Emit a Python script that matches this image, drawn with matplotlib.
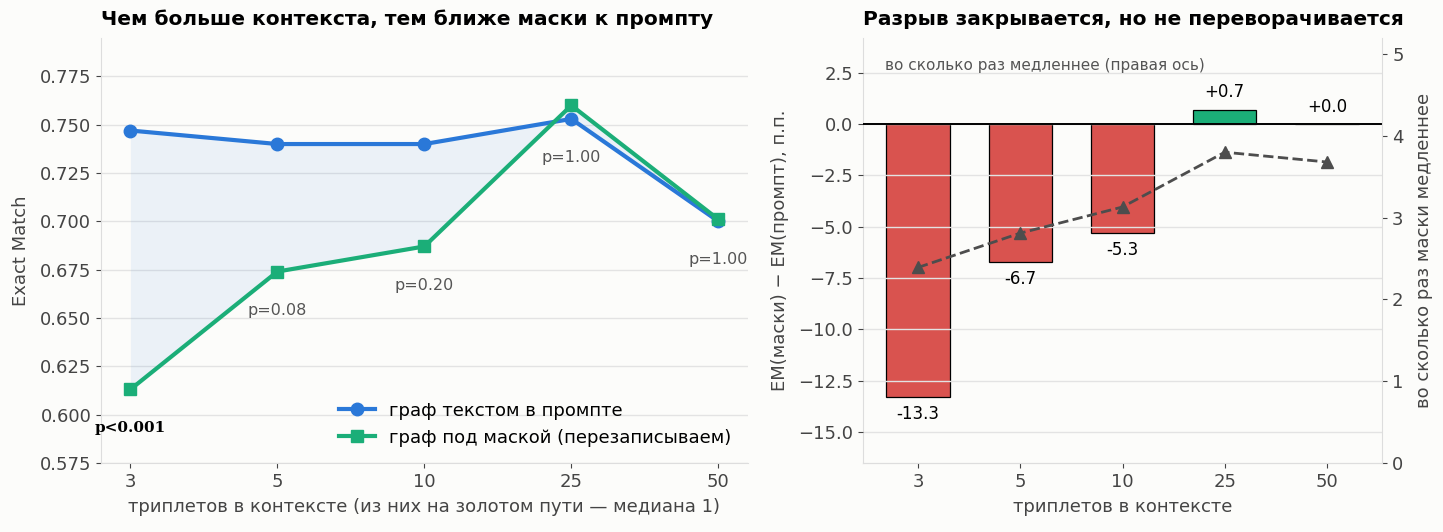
import numpy as np
import matplotlib
matplotlib.use("Agg")
import matplotlib.pyplot as plt

# данные
contexts = ["3", "5", "10", "25", "50"]
em_prompt = [0.747, 0.740, 0.740, 0.753, 0.700]
em_mask = [0.613, 0.674, 0.687, 0.760, 0.701]
p_labels = ["p<0.001", "p=0.08", "p=0.20", "p=1.00", "p=1.00"]
p_signif = [True, False, False, False, False]
gap_pp = [-13.3, -6.7, -5.3, 0.7, 0.0]
slowdown = [2.39, 2.81, 3.13, 3.80, 3.68]

BLUE = "#2a78d8"
GREEN = "#1bae78"
RED = "#d9534f"
DARK = "#4d4d4d"
BG = "#fcfcfa"
GRID = "#e3e3e3"
TXT = "#444444"

plt.rcParams.update({
    "font.family": "DejaVu Sans",
    "figure.facecolor": BG,
    "axes.facecolor": BG,
    "axes.edgecolor": "#dddddd",
    "axes.labelcolor": TXT,
    "xtick.color": TXT,
    "ytick.color": TXT,
    "xtick.labelsize": 13,
    "ytick.labelsize": 13,
    "axes.labelsize": 13,
    "axes.labelpad": 5,
})

fig, (ax1, ax2) = plt.subplots(1, 2, figsize=(14.43, 5.32), dpi=100,
                               gridspec_kw={"width_ratios": [647, 520]})
fig.subplots_adjust(left=0.07, right=0.958, bottom=0.13, top=0.929, wspace=0.197)

x = np.arange(len(contexts))

# левый график
ax1.fill_between(x, em_prompt, em_mask, color=BLUE, alpha=0.08, linewidth=0)
ax1.plot(x, em_prompt, color=BLUE, lw=3, marker="o", ms=9, label="граф текстом в промпте")
ax1.plot(x, em_mask, color=GREEN, lw=3, marker="s", ms=9, label="граф под маской (перезаписываем)")
for i in range(len(x)):
    y = min(em_prompt[i], em_mask[i]) - 0.02
    if p_signif[i]:
        ax1.text(x[i], y, p_labels[i], ha="center", va="center", fontsize=11,
                 fontweight="bold", family="DejaVu Serif", color="black")
    else:
        ax1.text(x[i], y, p_labels[i], ha="center", va="center", fontsize=11.5, color="#555555")
ax1.set_xticks(x)
ax1.set_xticklabels(contexts)
ax1.set_xlim(-0.2, 4.2)
ax1.set_ylim(0.575, 0.795)
ax1.set_yticks(np.arange(0.575, 0.776, 0.025))
ax1.yaxis.set_major_formatter(matplotlib.ticker.FormatStrFormatter("%.3f"))
ax1.set_ylabel("Exact Match", labelpad=7)
ax1.set_xlabel("триплетов в контексте (из них на золотом пути — медиана 1)")
ax1.set_title("Чем больше контекста, тем ближе маски к промпту", loc="left",
              fontweight="bold", fontsize=14.5, pad=9)
ax1.grid(axis="y", color=GRID, lw=1)
ax1.set_axisbelow(True)
ax1.legend(loc="lower right", frameon=False, fontsize=13)
for s in ["top", "right"]:
    ax1.spines[s].set_visible(False)

# правый график
colors = [RED if v < 0 else GREEN for v in gap_pp]
bars = ax2.bar(x, gap_pp, width=0.62, color=colors, edgecolor="black", linewidth=0.9, zorder=2)
ax2.bar_label(bars, labels=[f"{v:+.1f}" if v >= 0 else f"{v:.1f}" for v in gap_pp],
              padding=6, fontsize=12)
ax2.axhline(0, color="black", lw=1.4, zorder=3)
ax2.grid(axis="y", color=GRID, lw=1, zorder=2.5)
ax2.set_axisbelow(False)
ax2.set_ylim(-16.5, 4.2)
ax2.set_xticks(x)
ax2.set_xticklabels(contexts)
ax2.set_xlabel("триплетов в контексте")
ax2.set_ylabel("EM(маски) − EM(промпт), п.п.", labelpad=6)
ax2.set_title("Разрыв закрывается, но не переворачивается", loc="left",
              fontweight="bold", fontsize=14.5, pad=9)
ax2.text(0.044, 0.935, "во сколько раз медленнее (правая ось)", transform=ax2.transAxes,
         fontsize=11, color="#555555", va="center")
for s in ["top", "right"]:
    ax2.spines[s].set_visible(False)

ax3 = ax2.twinx()
ax3.plot(x, slowdown, color=DARK, ls="--", lw=2, marker="^", ms=8)
ax3.set_ylim(0, 5.2)
ax3.set_ylabel("во сколько раз маски медленнее", labelpad=8)
for s in ["top", "left"]:
    ax3.spines[s].set_visible(False)
ax3.spines["right"].set_color("#dddddd")

fig.savefig("out.png", dpi=100, facecolor=BG)
